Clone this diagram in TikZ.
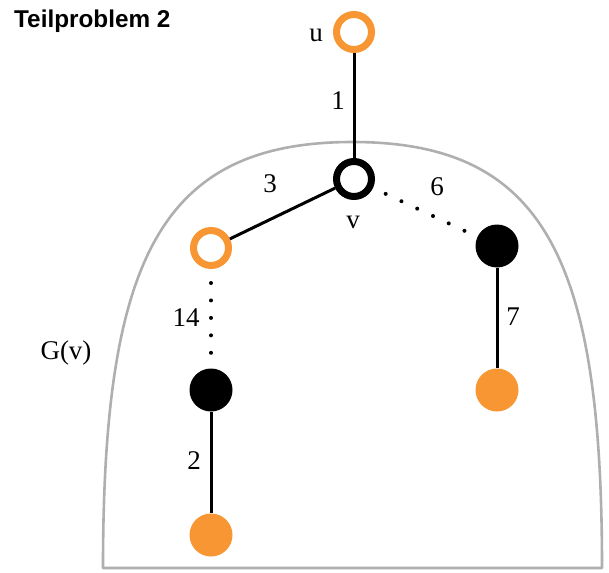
\documentclass[tikz,border=0pt]{standalone}
\usepackage{fontspec}
\setmainfont{Liberation Serif}
\newfontfamily\titlefont{Liberation Sans}
\definecolor{myorange}{RGB}{247,150,51}
\definecolor{archgray}{RGB}{175,175,175}
\tikzset{
  x=1pt, y=-1pt,
  ringO/.style={circle, draw=myorange, line width=7pt, fill=white, minimum size=35pt, inner sep=0pt},
  ringB/.style={circle, draw=black, line width=7pt, fill=white, minimum size=35pt, inner sep=0pt},
  fillB/.style={circle, fill=black, minimum size=43pt, inner sep=0pt},
  fillO/.style={circle, fill=myorange, minimum size=43pt, inner sep=0pt},
  edgeline/.style={line width=3pt, black},
  dotline/.style={line width=4pt, line cap=round, black},
  lbl/.style={font=\fontsize{27}{27}\selectfont, inner sep=0pt},
}
\begin{document}
\begin{tikzpicture}
\useasboundingbox (0,0) rectangle (609,572);
% arch
\draw[archgray, line width=2.6pt, line join=round]
  (103,568) .. controls (103,260) and (160,142) .. (352.5,142)
  .. controls (545,142) and (602,260) .. (602,568) -- cycle;
\node[anchor=base west, font=\titlefont\bfseries\fontsize{24.3}{24.3}\selectfont, inner sep=0pt] (title) at (14,28) {Teilproblem 2};
% nodes
\node[ringO] (u) at (354,32) {};
\node[ringB] (v) at (354,179) {};
\node[ringO] (a) at (211,248) {};
\node[fillB] (b) at (497,246) {};
\node[fillB] (c) at (211,390) {};
\node[fillO] (d) at (497,390) {};
\node[fillO] (e) at (211,535) {};
% edges
\draw[edgeline] (u) -- (v);
\draw[edgeline] (v) -- (a);
\draw[edgeline] (b) -- (d);
\draw[edgeline] (c) -- (e);
\draw[dotline, dash pattern=on 0pt off 17.4pt, shorten <=14pt, shorten >=14pt] (v) -- (b);
\draw[dotline, dash pattern=on 0pt off 17.45pt, shorten <=14pt, shorten >=15.5pt] (a) -- (c);
% labels
\node[lbl] (lu) at (316,35) {u};
\node[lbl] (l1) at (338,101) {1};
\node[lbl] (l3) at (270,184) {3};
\node[lbl] (l6) at (437,187) {6};
\node[lbl] (lv) at (353,222) {v};
\node[lbl] (l14) at (186,318) {14};
\node[lbl] (l2) at (194,461) {2};
\node[lbl] (l7) at (513,317) {7};
\node[lbl] (lg) at (66,353) {G(v)};
\end{tikzpicture}
\end{document}
